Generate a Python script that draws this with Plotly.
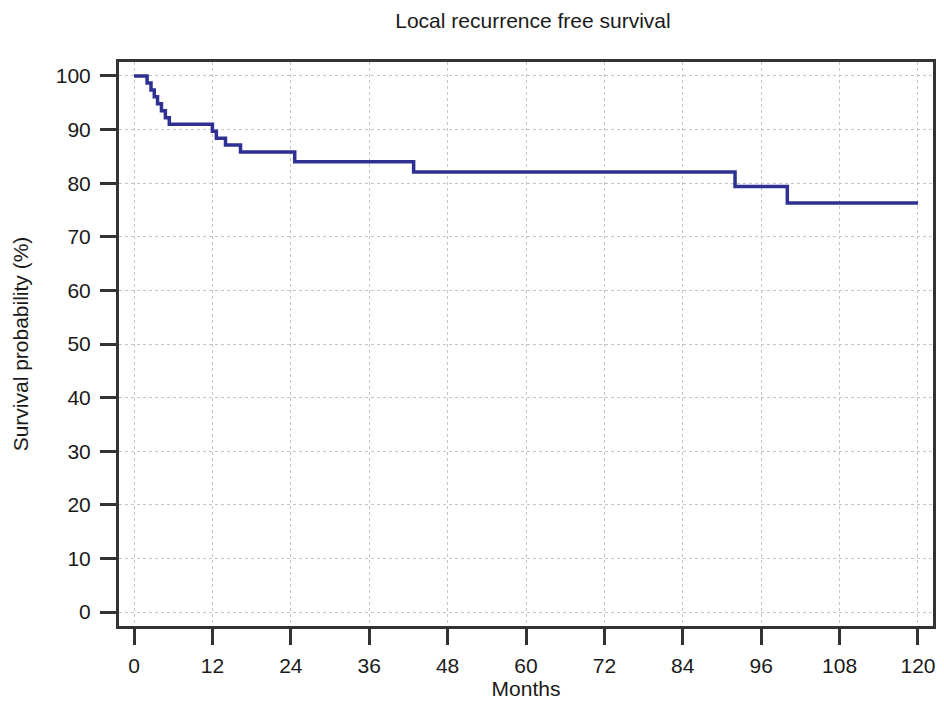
import plotly.graph_objects as go

# Kaplan-Meier step data (months, survival %)
event_months = [0, 2.0, 2.6, 3.1, 3.6, 4.2, 4.8, 5.4, 12.0, 12.6, 14.0, 16.3, 24.6, 42.8, 92.0, 100.0, 120.0]
survival_pct = [100, 98.7, 97.4, 96.1, 94.8, 93.5, 92.2, 91.0, 89.7, 88.4, 87.1, 85.8, 84.0, 82.1, 79.4, 76.3, 76.3]

x_ticks = list(range(0, 121, 12))
y_ticks = list(range(0, 101, 10))

fig = go.Figure()
fig.add_trace(go.Scatter(
    x=event_months, y=survival_pct, mode="lines",
    line=dict(shape="hv", color="#2e3192", width=3.5),
    showlegend=False,
))

font_family = "Liberation Sans, Arial, sans-serif"
text_color = "#1a1a1a"
axis_common = dict(
    showline=True, linecolor="#333333", linewidth=3, mirror=True,
    ticks="outside", ticklen=16, tickwidth=3, tickcolor="#333333",
    showgrid=True, gridcolor="#c4c4c4", griddash="dot", gridwidth=1,
    zeroline=False, ticklabeloverflow="allow", automargin=False,
    tickfont=dict(family=font_family, size=21, color=text_color),
)

fig.update_layout(
    width=928, height=692,
    margin=dict(l=111, r=3, t=54, b=74),
    paper_bgcolor="white", plot_bgcolor="white",
    title=dict(text="Local recurrence free survival", xref="container", x=525 / 928, xanchor="center",
               y=1 - 13 / 692, yanchor="middle",
               font=dict(family=font_family, size=21, color=text_color)),
    xaxis=dict(axis_common, range=[-2.3, 122.3], tickvals=x_ticks, ticklabelstandoff=3,
               title=dict(text="Months", standoff=8,
                          font=dict(family=font_family, size=21, color=text_color))),
    yaxis=dict(axis_common, range=[-2.6, 102.6], tickvals=y_ticks, ticklabelstandoff=5,
               title=dict(text="Survival probability (%)", standoff=22,
                          font=dict(family=font_family, size=21, color=text_color))),
)

fig.write_html("out.html")
